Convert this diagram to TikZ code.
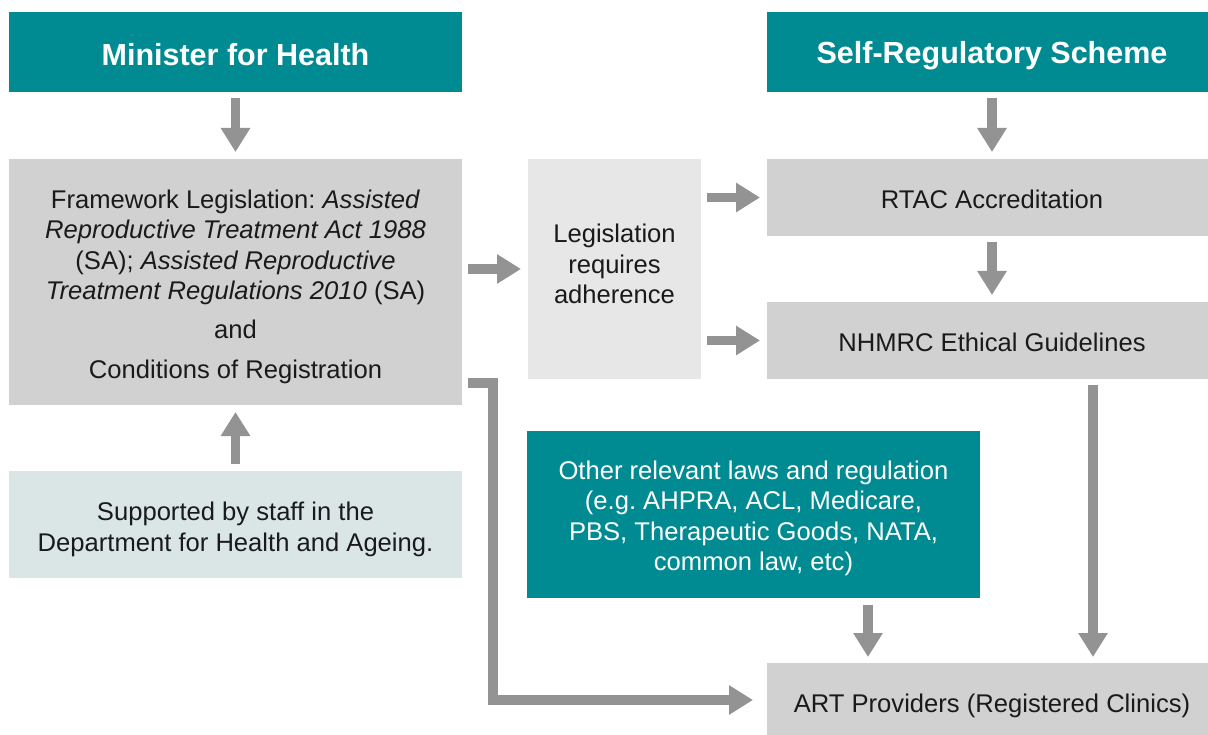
\documentclass[tikz,border=0pt]{standalone}
\usepackage{fontspec}
\setmainfont{Liberation Sans}
\usetikzlibrary{arrows.meta,calc}
\frenchspacing
\definecolor{teal1}{HTML}{008B93}
\definecolor{boxgray}{HTML}{D1D1D1}
\definecolor{boxlight}{HTML}{E7E7E7}
\definecolor{boxblue}{HTML}{DAE6E6}
\definecolor{arrgray}{HTML}{939393}
\definecolor{txt}{HTML}{1A1A1A}
\tikzset{
  basebox/.style={inner sep=0pt, outer sep=0pt},
  headbox/.style={basebox, fill=teal1},
  graybox/.style={basebox, fill=boxgray},
  lightbox/.style={basebox, fill=boxlight},
  bluebox/.style={basebox, fill=boxblue},
  tealbox/.style={basebox, fill=teal1},
  bodytext/.style={inner sep=0pt, align=center, text=txt, font=\frenchspacing\fontsize{25.6}{30.5}\selectfont},
  whitetext/.style={bodytext, text=white},
  headtext/.style={inner sep=0pt, align=center, text=white, font=\bfseries\fontsize{30.5}{36}\selectfont},
  arr/.style={draw=arrgray, line width=9.5pt, line join=miter,
    -{Triangle[length=24pt,width=28pt]}}
}
\begin{document}
\begin{tikzpicture}[x=1pt,y=-1pt]
\clip (0,0) rectangle (1208,735);
\fill[white] (0,0) rectangle (1208,735);
% left column
\node[headbox, minimum width=453pt, minimum height=80pt] (min) at (235.5,52) {};
\node[headtext, yshift=-3pt] (mint) at (min.center) {Minister for Health};
\node[graybox, minimum width=453pt, minimum height=246pt] (fw) at (235.5,282) {};
\node[bodytext, yshift=-5pt] (fwt) at (fw.center) {%
Framework Legislation: \textit{Assisted}\\
\textit{Reproductive Treatment Act 1988}\\
(SA); \textit{Assisted Reproductive}\\
\textit{Treatment Regulations 2010} (SA)\\[8.5pt]
and\\[9.5pt]
Conditions of Registration};
\node[bluebox, minimum width=453pt, minimum height=107pt] (sup) at (235.5,524.5) {};
\node[bodytext, yshift=-5pt] (supt) at (sup.center) {%
Supported by staff in the\\ Department for Health and Ageing.};
% middle
\node[lightbox, minimum width=173pt, minimum height=220pt] (leg) at (614.5,269) {};
\node[bodytext, yshift=5pt] (legt) at (leg.center) {Legislation\\ requires\\ adherence};
\node[tealbox, minimum width=453pt, minimum height=167pt] (oth) at (753.5,514.5) {};
\node[whitetext, yshift=-4pt] (otht) at (oth.center) {%
Other relevant laws and regulation\\
(e.g. AHPRA, ACL, Medicare,\\
PBS, Therapeutic Goods, NATA,\\
common law, etc)};
% right column
\node[headbox, minimum width=450pt, minimum height=80pt] (self) at (992,52) {};
\node[headtext, yshift=-4pt] (selft) at (self.center) {Self-Regulatory Scheme};
\node[graybox, minimum width=450pt, minimum height=77pt] (rtac) at (992,197.5) {};
\node[bodytext, yshift=-2pt] (rtact) at (rtac.center) {RTAC Accreditation};
\node[graybox, minimum width=450pt, minimum height=77pt] (nh) at (992,340.5) {};
\node[bodytext, yshift=-2pt] (nht) at (nh.center) {NHMRC Ethical Guidelines};
\node[graybox, minimum width=450pt, minimum height=80pt] (art) at (992,703) {};
\node[bodytext, yshift=-3pt] (artt) at (art.center) {ART Providers (Registered Clinics)};
% arrows
\draw[arr] ([yshift=-6pt]min.south) -- ([yshift=7pt]fw.north);
\draw[arr] ([yshift=7pt]sup.north) -- ([yshift=-7pt]fw.south);
\draw[arr] ([xshift=6pt]fw.east |- leg.center) -- ([xshift=-7pt]leg.west);
\draw[arr] ([xshift=6pt]leg.east |- rtac.west) -- ([xshift=-7pt]rtac.west);
\draw[arr] ([xshift=6pt]leg.east |- nh.west) -- ([xshift=-7pt]nh.west);
\draw[arr] ([yshift=-6pt]self.south) -- ([yshift=7pt]rtac.north);
\draw[arr] ([yshift=-6pt]rtac.south) -- ([yshift=7pt]nh.north);
\draw[arr] ([xshift=101pt,yshift=-6pt]nh.south) -- ([xshift=101pt,yshift=6pt]art.north);
\draw[arr] ([xshift=114.5pt,yshift=-7pt]oth.south) -- ([xshift=-124pt,yshift=6pt]art.north);
\draw[arr] ([xshift=6pt,yshift=22pt]fw.south east) -- ++(25,0) |- ([xshift=-14pt,yshift=3pt]art.west);
\end{tikzpicture}
\end{document}
